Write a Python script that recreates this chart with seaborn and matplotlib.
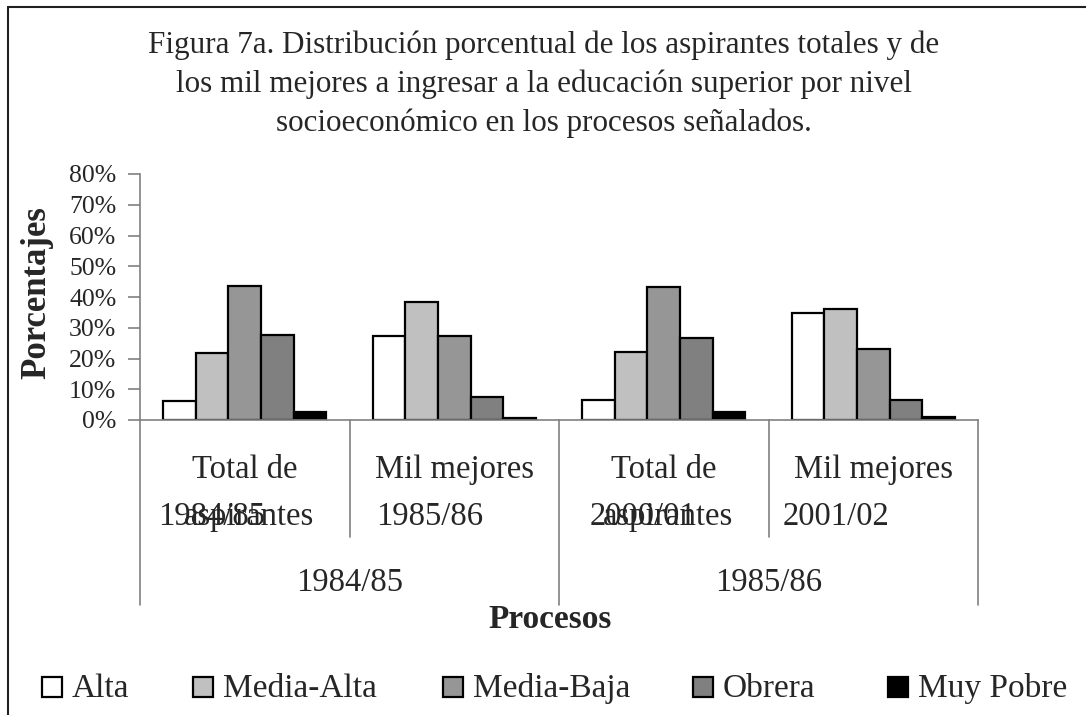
import matplotlib
matplotlib.use("Agg")
import matplotlib.pyplot as plt
import matplotlib.transforms as mtransforms
from matplotlib.lines import Line2D
from matplotlib.patches import Rectangle
import pandas as pd
import seaborn as sns

# --- datos (porcentajes) ---
procesos = ["Total 1984/85", "Mil 1985/86", "Total 2000/01", "Mil 2001/02"]
niveles = ["Alta", "Media-Alta", "Media-Baja", "Obrera", "Muy Pobre"]
alta = [6.1, 27.3, 6.5, 34.7]
media_alta = [21.7, 38.3, 22.1, 36.1]
media_baja = [43.6, 27.3, 43.4, 23.0]
obrera = [27.6, 7.6, 26.8, 6.5]
muy_pobre = [2.7, 0.8, 2.5, 0.9]

linea1 = ["Total de", "Mil mejores", "Total de", "Mil mejores"]
linea2 = ["aspirantes", "", "aspirantes", ""]
anios = ["1984/85", "1985/86", "2000/01", "2001/02"]
periodos = ["1984/85", "1985/86"]
yticks = [0, 10, 20, 30, 40, 50, 60, 70, 80]
titulo = [
    "Figura 7a. Distribución porcentual de los aspirantes totales y de",
    "los mil mejores a ingresar a la educación superior por nivel",
    "socioeconómico en los procesos señalados.",
]

colores = ["#FFFFFF", "#C0C0C0", "#969696", "#808080", "#000000"]

df = pd.DataFrame({
    "proceso": procesos * 5,
    "nivel": [n for n in niveles for _ in procesos],
    "pct": alta + media_alta + media_baja + obrera + muy_pobre,
})

W, H = 1086, 715
sns.set_theme(style="white")
plt.rcParams["font.family"] = ["Liberation Serif", "DejaVu Serif"]

fig = plt.figure(figsize=(W / 100, H / 100), dpi=100, facecolor="white")
ax = fig.add_axes([140 / W, 1 - 420 / H, (978 - 140) / W, (420 - 174) / H])

sns.barplot(
    data=df, x="proceso", y="pct", hue="nivel", order=procesos,
    hue_order=niveles, palette=colores, edgecolor="black", linewidth=1.6,
    width=0.78, saturation=1, legend=False, ax=ax,
)

ax.set_xlim(-0.5, 3.5)
ax.set_ylim(0, 80)
ax.set_yticks(yticks)
ax.set_yticklabels([f"{v}%" for v in yticks], fontsize=18.5)
ax.set_xticks([])
ax.set_xlabel("")
ax.set_ylabel("")
for s in ["top", "right"]:
    ax.spines[s].set_visible(False)
for s in ["left", "bottom"]:
    ax.spines[s].set_color("#808080")
    ax.spines[s].set_linewidth(1.2)
ax.tick_params(axis="y", direction="out", length=9, width=1.2, color="#808080",
               pad=8, left=True)

# etiquetas de categorias en varios niveles (x en datos, y en pixeles)
tr = mtransforms.blended_transform_factory(ax.transData, fig.transFigure)
py = lambda p: 1 - p / H
px = lambda p: p / W
for i, (a, b) in enumerate(zip(linea1, linea2)):
    ax.text(i, py(470), a, transform=tr, ha="center", va="center", fontsize=23.5)
    if b:
        ax.text(i + 0.02, py(517), b, transform=tr, ha="center", va="center",
                fontsize=23.5)
off_anio = [-0.156, -0.116, -0.099, -0.178]
for i, (t, o) in enumerate(zip(anios, off_anio)):
    ax.text(i + o, py(517), t, transform=tr, ha="center", va="center",
            fontsize=23.5)
for j, t in enumerate(periodos):
    ax.text(2 * j + 0.5, py(583), t, transform=tr, ha="center", va="center",
            fontsize=23.5)

# separadores
for x, bajo in zip([-0.5, 0.5, 1.5, 2.5, 3.5], [605, 537, 605, 537, 605]):
    ax.add_line(Line2D([x, x], [py(420), py(bajo)], transform=tr,
                       color="#808080", lw=1.2, clip_on=False))

for k, linea in enumerate(titulo):
    fig.text(px(544), py(45 + 39 * k), linea, ha="center", va="center",
             fontsize=22.4)
fig.text(px(37), py(293), "Porcentajes", rotation=90, ha="center",
         va="center", fontsize=25, fontweight="bold")
fig.text(px(550), py(620), "Procesos", ha="center", va="center",
         fontsize=24, fontweight="bold")

# leyenda
for x0, nombre, c in zip([42, 193, 443, 693, 888], niveles, colores):
    fig.add_artist(Rectangle((px(x0), py(697)), px(20), 20 / H,
                             transform=fig.transFigure, facecolor=c,
                             edgecolor="black", linewidth=1.6))
    fig.text(px(x0 + 30), py(697), nombre, ha="left", va="baseline",
             fontsize=24)

# marco de la figura (solo izquierda y arriba)
fig.add_artist(Line2D([px(8), px(8)], [0, py(7)], transform=fig.transFigure,
                      color="#202020", lw=1.5))
fig.add_artist(Line2D([px(8), 1], [py(7), py(7)], transform=fig.transFigure,
                      color="#202020", lw=1.5))

fig.savefig("out.png", dpi=100, facecolor="white")
plt.close(fig)
